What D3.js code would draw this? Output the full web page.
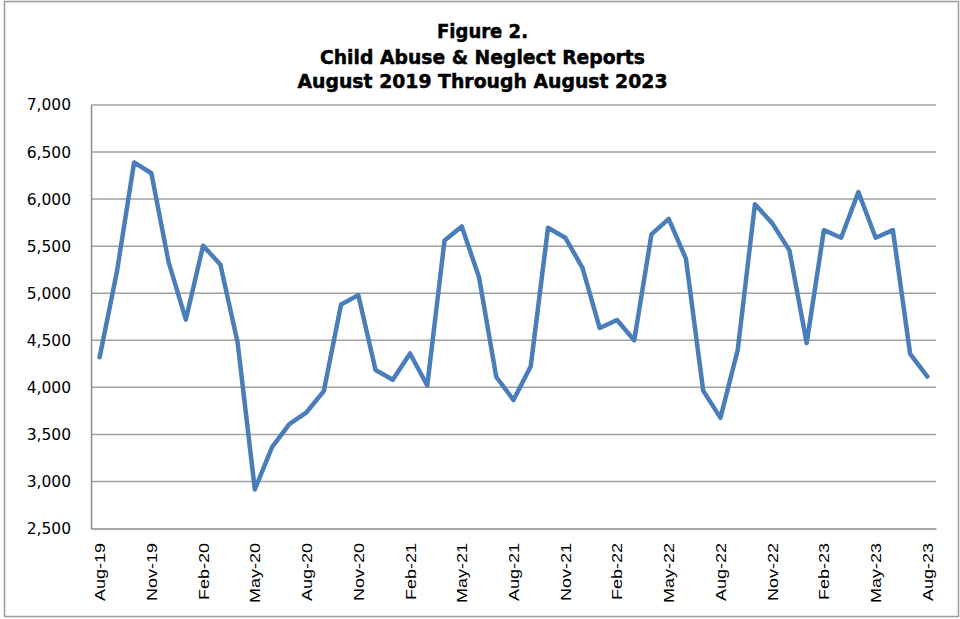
<!DOCTYPE html>
<html>
<head>
<meta charset="utf-8">
<script src="https://cdn.jsdelivr.net/npm/d3@7"></script>
<style>
  html, body { margin: 0; padding: 0; background: #fff; }
  svg { display: block; }
</style>
</head>
<body>
<svg id="chart" width="960" height="619"></svg>
<script>
// ---- data ----
const titleLines = ["Figure 2.", "Child Abuse & Neglect Reports", "August 2019 Through August 2023"];
const months = [
  "Aug-19","Sep-19","Oct-19","Nov-19","Dec-19","Jan-20","Feb-20","Mar-20","Apr-20","May-20",
  "Jun-20","Jul-20","Aug-20","Sep-20","Oct-20","Nov-20","Dec-20","Jan-21","Feb-21","Mar-21",
  "Apr-21","May-21","Jun-21","Jul-21","Aug-21","Sep-21","Oct-21","Nov-21","Dec-21","Jan-22",
  "Feb-22","Mar-22","Apr-22","May-22","Jun-22","Jul-22","Aug-22","Sep-22","Oct-22","Nov-22",
  "Dec-22","Jan-23","Feb-23","Mar-23","Apr-23","May-23","Jun-23","Jul-23","Aug-23"
];
const reports = [
  4320, 5225, 6390, 6275, 5330, 4720, 5505, 5305, 4480, 2915,
  3365, 3610, 3735, 3960, 4880, 4980, 4185, 4080, 4360, 4020,
  5560, 5710, 5170, 4110, 3865, 4225, 5695, 5590, 5270, 4630,
  4715, 4500, 5625, 5790, 5365, 3965, 3675, 4395, 5945, 5745,
  5455, 4470, 5670, 5590, 6075, 5590, 5670, 4355, 4115
];
const tickLabels = ["Aug-19","Nov-19","Feb-20","May-20","Aug-20","Nov-20","Feb-21","May-21","Aug-21",
  "Nov-21","Feb-22","May-22","Aug-22","Nov-22","Feb-23","May-23","Aug-23"];
const yTicks = [2500, 3000, 3500, 4000, 4500, 5000, 5500, 6000, 6500, 7000];

(function () {
// ---- layout ----
const svg = d3.select("#chart");
const pLeft = 91, pRight = 936, pTop = 105, pBottom = 528.5;

// outer border
svg.append("rect")
  .attr("x", 4.5).attr("y", 1.5).attr("width", 954).attr("height", 615)
  .attr("fill", "#fff").attr("stroke", "#9a9a9a").attr("stroke-width", 1.5);

// title
const titleWidths = [91, 325, 370];
const titleBase = [38, 64, 88];
svg.append("g").selectAll("text").data(titleLines).join("text")
  .attr("x", 482.5).attr("y", (d, i) => titleBase[i])
  .attr("text-anchor", "middle")
  .attr("font-family", "'DejaVu Sans', Verdana, sans-serif")
  .attr("font-weight", "bold").attr("font-size", 20)
  .attr("textLength", (d, i) => titleWidths[i])
  .attr("lengthAdjust", "spacingAndGlyphs")
  .attr("fill", "#000")
  .attr("stroke", "#000").attr("stroke-width", 0.5)
  .text(d => d);

const x = d3.scaleBand().domain(months).range([pLeft, pRight]);
const y = d3.scaleLinear().domain([2500, 7000]).range([pBottom, pTop]);
const cx = d => x(d) + x.bandwidth() / 2;

// gridlines
svg.append("g").selectAll("line").data(yTicks.filter(t => t > 2500)).join("line")
  .attr("x1", pLeft).attr("x2", pRight)
  .attr("y1", d => y(d)).attr("y2", d => y(d))
  .attr("stroke", "#a0a0a0").attr("stroke-width", 1.5);

// y axis
const yAxis = svg.append("g")
  .attr("transform", `translate(${pLeft},0)`)
  .call(d3.axisLeft(y).tickValues(yTicks).tickSize(0).tickPadding(20)
        .tickFormat(d3.format(",")));
yAxis.select(".domain").attr("stroke", "#8c8c8c").attr("stroke-width", 1.5);
yAxis.selectAll("text")
  .attr("font-family", "'DejaVu Sans', Verdana, sans-serif")
  .attr("font-size", 15.5).attr("fill", "#000");

// x axis
const xAxis = svg.append("g")
  .attr("transform", `translate(0,${pBottom})`)
  .call(d3.axisBottom(x).tickValues(tickLabels).tickSize(0).tickPadding(0));
xAxis.select(".domain").attr("stroke", "#8c8c8c").attr("stroke-width", 1.5);
xAxis.selectAll(".tick text")
  .attr("font-family", "'Liberation Sans', Arial, sans-serif")
  .attr("font-size", 15).attr("fill", "#000")
  .attr("text-anchor", "end")
  .attr("dy", null)
  .attr("dominant-baseline", "central")
  .attr("transform", "translate(0.5,14.5) rotate(-90) scale(1.2,1)")
  .attr("x", 0).attr("y", 0);

// line
const line = d3.line().x((d, i) => cx(months[i])).y(d => y(d));
svg.append("path")
  .datum(reports)
  .attr("d", line)
  .attr("fill", "none")
  .attr("stroke", "#4a7ebb")
  .attr("stroke-width", 4.5)
  .attr("stroke-linejoin", "round")
  .attr("stroke-linecap", "round");
})();
</script>
</body>
</html>
